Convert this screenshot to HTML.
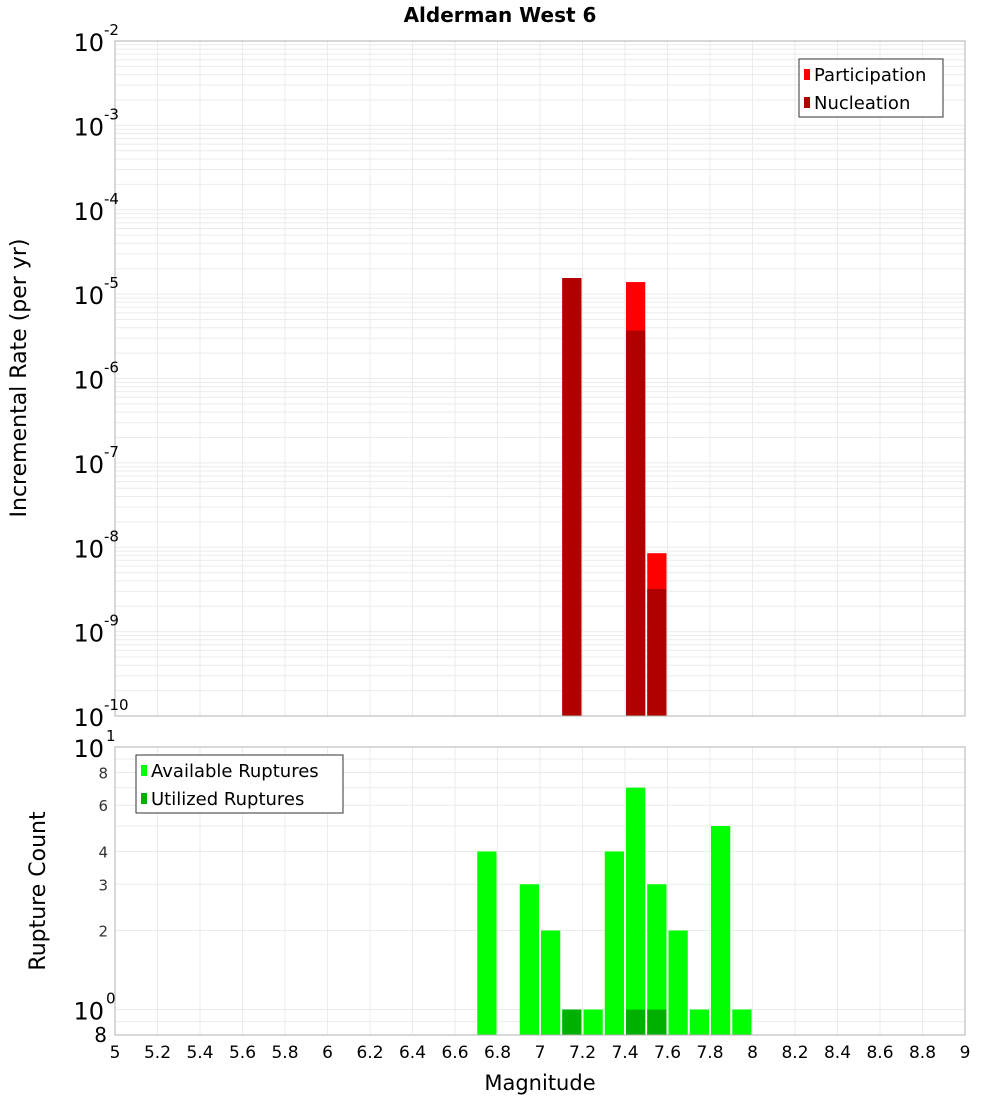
<!DOCTYPE html>
<html><head><meta charset="utf-8"><style>
body{margin:0;background:#fff}
svg{display:block;font-family:"DejaVu Sans","Liberation Sans",sans-serif}
</style></head><body>
<svg id="c" width="1000" height="1100"></svg>
<script>
const mags=[6.7,6.9,7.0,7.1,7.2,7.3,7.4,7.5,7.6,7.7,7.8,7.9];
const available=[4,3,2,1,1,4,7,3,2,1,5,1];
const utilized=[0,0,0,1,0,0,1,1,0,0,0,0];
const rateMags=[7.1,7.4,7.5];
const participation=[1.55e-5,1.39e-5,8.5e-9];
const nucleation=[1.55e-5,3.7e-6,3.2e-9];
const xTicks=[5,5.2,5.4,5.6,5.8,6,6.2,6.4,6.6,6.8,7,7.2,7.4,7.6,7.8,8,8.2,8.4,8.6,8.8,9];
const topExps=[-2,-3,-4,-5,-6,-7,-8,-9,-10];
const botTicks=[8,6,4,3,2];

const NS="http://www.w3.org/2000/svg",svg=document.getElementById('c');
function el(t,a,p){const e=document.createElementNS(NS,t);for(const k in a)e.setAttribute(k,a[k]);(p||svg).appendChild(e);return e;}
const L=115,R=965,T1=41,B1=716,T2=747,B2=1035;
const x=m=>L+(m-5)*(R-L)/4;
const y1=v=>T1+(-2-Math.log10(v))*(B1-T1)/8;
const y2=v=>T2+(1-Math.log10(v))*(B2-T2)/(1-Math.log10(0.8));

// title
let t=el('text',{x:500,y:22,'text-anchor':'middle','font-size':20,'font-weight':'bold'});t.textContent='Alderman West 6';


// grids
const g=el('g',{stroke:'#ebebeb','stroke-width':1});

xTicks.forEach(m=>{el('line',{x1:x(m),x2:x(m),y1:T1,y2:B1},g);el('line',{x1:x(m),x2:x(m),y1:T2,y2:B2},g);});
for(let e=-10;e<-2;e++)for(let k=1;k<10;k++){const yy=y1(k*Math.pow(10,e));el('line',{x1:L,x2:R,y1:yy,y2:yy},g);}
[0.9,1,2,3,4,5,6,7,8,9].forEach(v=>{const yy=y2(v);el('line',{x1:L,x2:R,y1:yy,y2:yy},g);});

// top bars
rateMags.forEach((m,i)=>{
 let r=el('rect',{x:x(m)+1,y:y1(participation[i]),width:x(m+0.1)-x(m)-2,height:B1-y1(participation[i]),fill:'#ff0000'});
 
 r=el('rect',{x:x(m)+1,y:y1(nucleation[i]),width:x(m+0.1)-x(m)-2,height:B1-y1(nucleation[i]),fill:'#b00000'});
 
});
// bottom bars
mags.forEach((m,i)=>{
 let r=el('rect',{x:x(m)+1,y:y2(available[i]),width:x(m+0.1)-x(m)-2,height:B2-y2(available[i]),fill:'#00ff00'});
 
 if(utilized[i]>0){r=el('rect',{x:x(m)+1,y:y2(utilized[i]),width:x(m+0.1)-x(m)-2,height:B2-y2(utilized[i]),fill:'#00b000'});
 }
});

// frames
let f=el('rect',{x:L,y:T1,width:R-L,height:B1-T1,fill:'none',stroke:'#b0b0b0'});

f=el('rect',{x:L,y:T2,width:R-L,height:B2-T2,fill:'none',stroke:'#b0b0b0'});


// top y ticks
topExps.forEach(e=>{
 const yy=y1(Math.pow(10,e));
 const tx=el('text',{x:104,y:yy+10,'text-anchor':'end','font-size':24});
 
 tx.textContent='10';
 const s=el('text',{x:104,y:yy-6,'font-size':15});s.textContent=String(e);
 
});
// bottom y ticks
[[1,'1'],[0,'0']].forEach(([e,s])=>{
 const yy=y2(Math.pow(10,e));
 const tx=el('text',{x:104,y:yy+10,'text-anchor':'end','font-size':24});tx.textContent='10';
 
 const sp=el('text',{x:106,y:yy-6,'font-size':15});sp.textContent=s;
 
});
botTicks.forEach(v=>{const tx=el('text',{x:108,y:y2(v)+6,'text-anchor':'end','font-size':15,fill:'#333'});tx.textContent=v;
 });
let b8=el('text',{x:107,y:B2+7,'text-anchor':'end','font-size':20});b8.textContent='8';


// x ticks
xTicks.forEach(m=>{const tx=el('text',{x:x(m),y:1058,'text-anchor':'middle','font-size':17});tx.textContent=String(m);
 });
let xl=el('text',{x:540,y:1090,'text-anchor':'middle','font-size':21});xl.textContent='Magnitude';

let yl=el('text',{x:0,y:0,'text-anchor':'middle','font-size':22,transform:'translate(26,378) rotate(-90)'});yl.textContent='Incremental Rate (per yr)';

yl=el('text',{x:0,y:0,'text-anchor':'middle','font-size':22,transform:'translate(45,891) rotate(-90)'});yl.textContent='Rupture Count';


// legends
function legend(x0,y0,w,items,name){
 const lg=el('g',{});
 el('rect',{x:x0,y:y0,width:w,height:58,fill:'#fff',stroke:'#333'},lg);
 items.forEach(([c,l],i)=>{
  el('rect',{x:x0+5,y:y0+10+i*28,width:6,height:11,fill:c},lg);
  const tt=el('text',{x:x0+15,y:y0+22+i*28,'font-size':18},lg);tt.textContent=l;
  
 });
}
legend(799,59,144,[['#ff0000','Participation'],['#b00000','Nucleation']],'rate-legend');
legend(136,755,207,[['#00ff00','Available Ruptures'],['#00b000','Utilized Ruptures']],'count-legend');
</script>
</body></html>
